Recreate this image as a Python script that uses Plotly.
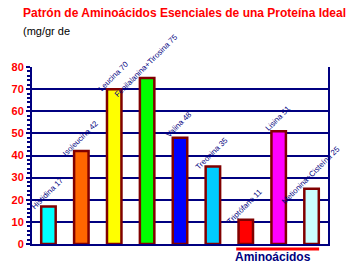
import plotly.graph_objects as go

aminoacids = ["Histidina", "Isoleucina", "Leucina", "Fenilalanina+Tirosina", "Valina",
              "Treonina", "Triptófano", "Lisina", "Metionina+Cisteína"]
values = [17, 42, 70, 75, 48, 35, 11, 51, 25]
colors = ["#00FFFF", "#FF6600", "#FFFF00", "#00FF00", "#0000FF",
          "#00CCFF", "#FF0000", "#FF00FF", "#CCFFFF"]

fig = go.Figure()
fig.add_trace(go.Bar(
    x=aminoacids, y=values,
    marker=dict(color=colors, line=dict(color="#800000", width=2.5)),
    width=0.44,
))

for a, v in zip(aminoacids, values):
    fig.add_annotation(x=a, y=v, text=f"{a} {v}", textangle=-45, showarrow=False,
                       xanchor="center", yanchor="middle", yshift=13, xshift=-1,
                       font=dict(family="Liberation Sans, Arial", size=7.8, color="#000080"))

fig.add_annotation(xref="paper", yref="paper", x=-0.03, y=1.0, yshift=54, xshift=-2,
                   text="<b>Patrón de Aminoácidos Esenciales de una Proteína Ideal</b>",
                   showarrow=False, xanchor="left", yanchor="middle",
                   font=dict(family="Liberation Sans, Arial", size=12, color="#FF0000"))
fig.add_annotation(xref="paper", yref="paper", x=-0.03, y=1.0, yshift=36, xshift=-2,
                   text="(mg/gr de", showarrow=False, xanchor="left", yanchor="middle",
                   font=dict(family="Liberation Sans, Arial", size=11, color="#000000"))
fig.add_annotation(xref="paper", yref="paper", x=0.815, y=0, yshift=-13,
                   text="<b>Aminoácidos</b>", showarrow=False, xanchor="center", yanchor="middle",
                   font=dict(family="Liberation Sans, Arial", size=12, color="#000080"))
fig.add_shape(type="line", xref="paper", yref="paper", x0=0.69, x1=0.97,
              ysizemode="pixel", yanchor=0, y0=-5, y1=-5,
              line=dict(color="#FF0000", width=3))

fig.update_layout(
    width=347, height=269,
    margin=dict(l=29, r=19, t=67, b=25),
    paper_bgcolor="white", plot_bgcolor="white",
    showlegend=False,
    xaxis=dict(showticklabels=False, showgrid=False, ticks="", showline=True,
               linecolor="#000080", linewidth=2, range=[-0.5, len(aminoacids) - 0.5],
               autorange=False),
    yaxis=dict(range=[0, 80], autorange=False, dtick=10, showgrid=True, gridcolor="#000080",
               gridwidth=2, showline=True, linecolor="#000080", linewidth=2, mirror=True,
               ticks="outside", ticklen=4, tickwidth=2, tickcolor="#000080",
               minor=dict(dtick=2, ticks="outside", ticklen=3, tickcolor="#000080", showgrid=False),
               tickfont=dict(family="Liberation Sans, Arial", size=11, color="#FF0000"),
               zeroline=False),
)
fig.update_yaxes(tickprefix="<b>", ticksuffix="</b>")

fig.write_html("out.html")
